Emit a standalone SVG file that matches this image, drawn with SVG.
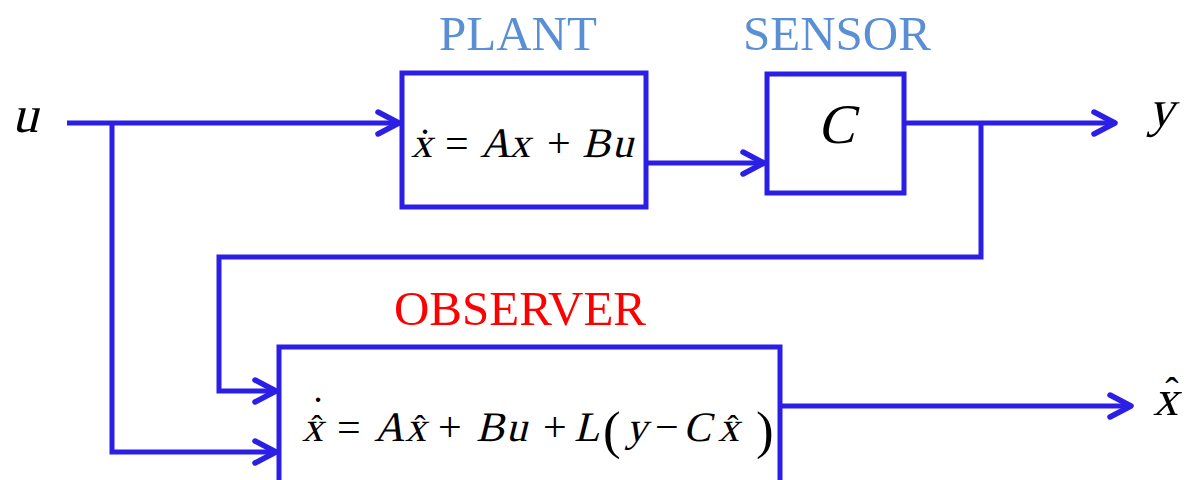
<svg xmlns="http://www.w3.org/2000/svg" width="1191" height="480" viewBox="0 0 1191 480">
<style>
.box{fill:#fff;stroke:#2b1fe6;stroke-width:5}
.wire{fill:none;stroke:#2b1fe6;stroke-width:5}
.m{font-family:"Liberation Serif","Times New Roman",serif;font-style:normal;fill:#000;font-size:42px}
.u{font-family:"Liberation Serif","Times New Roman",serif;fill:#000}
.ttl{font-family:"Liberation Serif","Times New Roman",serif;font-size:49px;text-anchor:middle}
</style>
<defs>
<marker id="arr" markerUnits="userSpaceOnUse" markerWidth="40" markerHeight="40" refX="0" refY="0" viewBox="-30 -20 40 40" orient="auto" overflow="visible">
<path d="M-21 -11 L0 0 L-21 11" fill="none" stroke="#2b1fe6" stroke-width="5.5" stroke-linecap="round" stroke-linejoin="round"/>
</marker>
</defs>
<rect width="1191" height="480" fill="#fff"/>
<g id="connectors">
<path class="wire" d="M67 123 H399" marker-end="url(#arr)"/>
<path class="wire" d="M112 123 V452 H276" marker-end="url(#arr)"/>
<path class="wire" d="M646 163 H764" marker-end="url(#arr)"/>
<path class="wire" d="M904 123 H1115" marker-end="url(#arr)"/>
<path class="wire" d="M981 123 V257 H219 V391 H276" marker-end="url(#arr)"/>
<path class="wire" d="M780 406 H1131" marker-end="url(#arr)"/>
</g>
<g id="plant">
<rect class="box" x="402" y="73" width="244" height="134"/>
<text class="ttl" x="518" y="50" fill="#5b8fd4">PLANT</text>
<text class="m" transform="translate(411,157) skewX(-14)">x</text>
<text class="m" transform="translate(480,157) skewX(-14)">A</text>
<text class="m" transform="translate(509,157) skewX(-14)">x</text>
<text class="m" transform="translate(582,157) skewX(-14)">B</text>
<text class="m" transform="translate(612,157) skewX(-14)">u</text>
<text class="u" font-size="42" y="157"><tspan x="445">=</tspan><tspan x="547">+</tspan></text>
<text class="u" font-size="42" y="158" x="425" text-anchor="middle">˙</text>
</g>
<g id="sensor">
<rect class="box" x="767" y="74" width="137" height="119"/>
<text class="ttl" x="837" y="50" fill="#5b8fd4">SENSOR</text>
<text class="m" text-anchor="middle" style="font-size:56px" transform="translate(836,143) skewX(-14)">C</text>
</g>
<g id="observer">
<rect class="box" x="279" y="347" width="501" height="145"/>
<text class="ttl" x="520" y="325" fill="#ff0000">OBSERVER</text>
<text class="m" transform="translate(302,441) skewX(-14)">x</text>
<text class="m" transform="translate(374,441) skewX(-14)">A</text>
<text class="m" transform="translate(405,441) skewX(-14)">x</text>
<text class="m" transform="translate(476,441) skewX(-14)">B</text>
<text class="m" transform="translate(506,441) skewX(-14)">u</text>
<text class="m" transform="translate(574,441) skewX(-14)">L</text>
<text class="m" transform="translate(626,441) skewX(-14)">y</text>
<text class="m" transform="translate(683,441) skewX(-14)">C</text>
<text class="m" transform="translate(718,441) skewX(-14)">x</text>
<text class="u" font-size="42" y="441"><tspan x="337">=</tspan><tspan x="438">+</tspan><tspan x="543">+</tspan><tspan x="655">−</tspan></text>
<text class="u" font-size="53" y="448"><tspan x="603">(</tspan><tspan x="756">)</tspan></text>
<text class="u" font-size="34" y="439" text-anchor="middle"><tspan x="317">ˆ</tspan><tspan x="420">ˆ</tspan><tspan x="733">ˆ</tspan></text>
<text class="u" font-size="42" y="426" x="318" text-anchor="middle">˙</text>
</g>
<g id="io-labels">
<text class="m" style="font-size:52px" transform="translate(12,132) skewX(-14)">u</text>
<text class="m" style="font-size:52px" transform="translate(1148,126) skewX(-14)">y</text>
<text class="m" style="font-size:50px" transform="translate(1153,415) skewX(-14)">x</text>
<text class="u" font-size="40" x="1172" y="405" text-anchor="middle">ˆ</text>
</g>
</svg>
